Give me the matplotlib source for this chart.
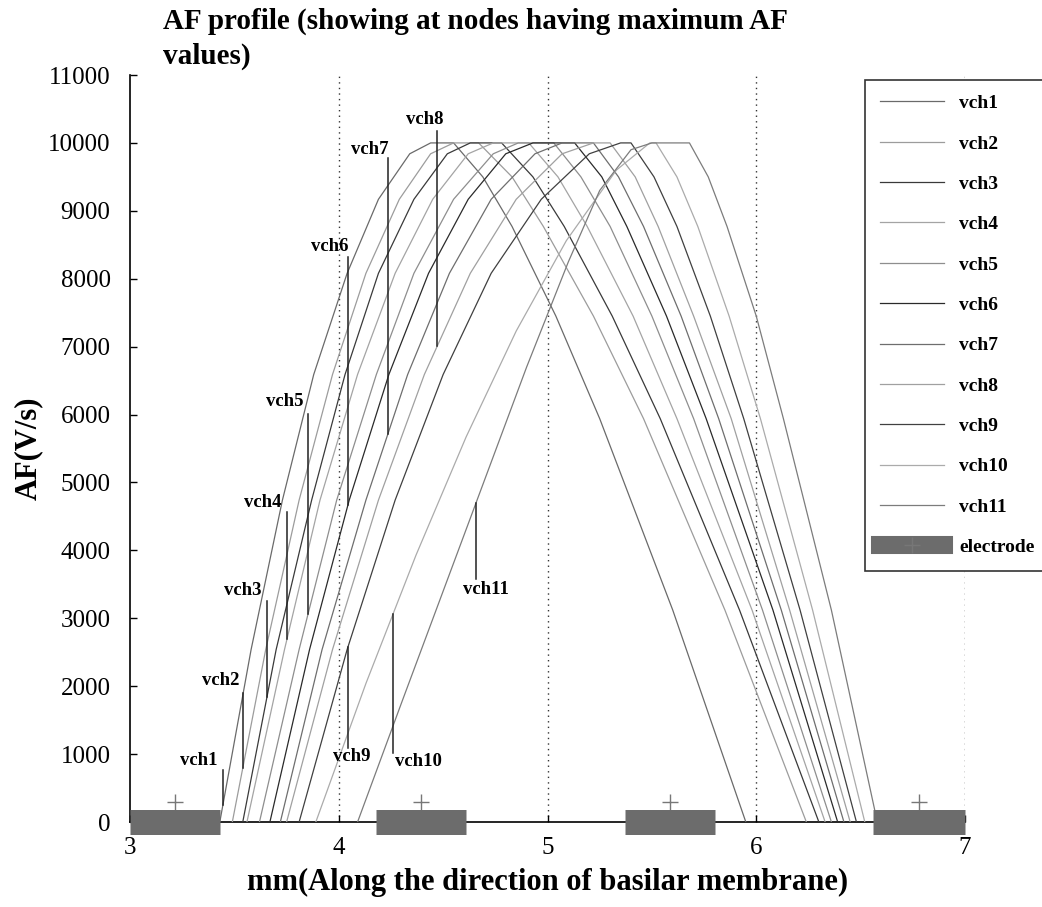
import matplotlib
matplotlib.use("Agg")
import matplotlib.pyplot as plt
from matplotlib.lines import Line2D
import numpy as np

plt.rcParams['font.family'] = ['Liberation Serif', 'DejaVu Serif']

# ---------------- data ----------------
labels = ["vch1", "vch2", "vch3", "vch4", "vch5", "vch6",
          "vch7", "vch8", "vch9", "vch10", "vch11"]

curve_x = [
    [3.43, 3.58, 3.73, 3.88, 4.04, 4.19, 4.34, 4.44, 4.55, 4.69, 4.83, 5.04, 5.25, 5.60, 5.95],
    [3.49, 3.65, 3.81, 3.97, 4.13, 4.29, 4.44, 4.55, 4.67, 4.83, 4.98, 5.22, 5.46, 5.85, 6.24],
    [3.54, 3.70, 3.87, 4.03, 4.19, 4.36, 4.52, 4.63, 4.78, 4.93, 5.08, 5.31, 5.54, 5.92, 6.30],
    [3.56, 3.74, 3.91, 4.09, 4.27, 4.45, 4.62, 4.74, 4.91, 5.05, 5.19, 5.41, 5.62, 5.98, 6.33],
    [3.62, 3.81, 3.99, 4.18, 4.36, 4.55, 4.74, 4.86, 5.03, 5.16, 5.30, 5.50, 5.70, 6.03, 6.36],
    [3.67, 3.86, 4.05, 4.24, 4.43, 4.62, 4.80, 4.93, 5.13, 5.26, 5.38, 5.57, 5.76, 6.08, 6.39],
    [3.72, 3.92, 4.13, 4.33, 4.53, 4.73, 4.94, 5.07, 5.22, 5.34, 5.46, 5.64, 5.82, 6.12, 6.42],
    [3.75, 3.97, 4.19, 4.41, 4.63, 4.85, 5.07, 5.22, 5.30, 5.42, 5.53, 5.70, 5.88, 6.16, 6.45],
    [3.81, 4.04, 4.27, 4.50, 4.73, 4.97, 5.20, 5.35, 5.40, 5.51, 5.62, 5.78, 5.94, 6.21, 6.48],
    [3.89, 4.13, 4.37, 4.61, 4.85, 5.09, 5.33, 5.49, 5.52, 5.62, 5.72, 5.87, 6.02, 6.27, 6.52],
    [4.09, 4.30, 4.50, 4.70, 4.90, 5.10, 5.25, 5.40, 5.50, 5.68, 5.77, 5.86, 6.00, 6.13, 6.36, 6.58],
]

curve_y = [
    [0, 2540, 4740, 6590, 8080, 9170, 9840, 10000, 10000, 9500, 8770, 7450, 5940, 3120, 0],
    [0, 2540, 4740, 6590, 8080, 9170, 9840, 10000, 10000, 9500, 8770, 7450, 5940, 3120, 0],
    [0, 2540, 4740, 6590, 8080, 9170, 9840, 10000, 10000, 9500, 8770, 7450, 5940, 3120, 0],
    [0, 2540, 4740, 6590, 8080, 9170, 9840, 10000, 10000, 9500, 8770, 7450, 5940, 3120, 0],
    [0, 2540, 4740, 6590, 8080, 9170, 9840, 10000, 10000, 9500, 8770, 7450, 5940, 3120, 0],
    [0, 2540, 4740, 6590, 8080, 9170, 9840, 10000, 10000, 9500, 8770, 7450, 5940, 3120, 0],
    [0, 2540, 4740, 6590, 8080, 9170, 9840, 10000, 10000, 9500, 8770, 7450, 5940, 3120, 0],
    [0, 2540, 4740, 6590, 8080, 9170, 9840, 10000, 10000, 9500, 8770, 7450, 5940, 3120, 0],
    [0, 2540, 4740, 6590, 8080, 9170, 9840, 10000, 10000, 9500, 8770, 7450, 5940, 3120, 0],
    [0, 2040, 3930, 5670, 7230, 8560, 9600, 10000, 10000, 9500, 8770, 7450, 5940, 3120, 0],
    [0, 1750, 3400, 5050, 6700, 8250, 9300, 9900, 10000, 10000, 9500, 8770, 7450, 5940, 3120, 0],
]

# electrodes (mm along the basilar membrane)
electrode_start = [3.00, 4.18, 5.37, 6.56]
electrode_end = [3.43, 4.61, 5.80, 7.00]
electrode_mark_level = 300

# annotation pointers: x on the curve, label position, pointer start level
pointer_x = [3.445, 3.54, 3.656, 3.752, 3.853, 4.044, 4.236, 4.471, 4.044, 4.26, 4.657]
label_x = [3.33, 3.436, 3.541, 3.637, 3.743, 3.958, 4.15, 4.413, 4.063, 4.38, 4.705]
label_y = [900, 2080, 3410, 4710, 6190, 8475, 9910, 10350, 960, 886, 3425]
pointer_from = [768, 1905, 3248, 4562, 6009, 8327, 9774, 10173, 1093, 1019, 3573]

x_ticks = [3, 4, 5, 6, 7]
y_ticks = list(range(0, 11001, 1000))

# ---------------- styles ----------------
colors = ['#6a6a6a', '#9c9c9c', '#3a3a3a', '#a4a4a4', '#8e8e8e', '#2a2a2a',
          '#6e6e6e', '#a0a0a0', '#404040', '#ababab', '#7c7c7c']
elec_color = '#6c6c6c'

fig = plt.figure(figsize=(10.42, 9.07), dpi=100)
ax = fig.add_axes([0.1248, 0.0937, 0.8013, 0.8236])

handles = []
for xs, ys, lab, c in zip(curve_x, curve_y, labels, colors):
    h, = ax.plot(xs, ys, color=c, lw=0.9, label=lab, zorder=3)
    handles.append(h)

# electrodes
centers = [(a + b) / 2 for a, b in zip(electrode_start, electrode_end)]
ax.plot(centers, [electrode_mark_level] * len(centers), linestyle='none',
        marker='+', ms=11, mew=1.0, color='#777777', zorder=4, clip_on=False)
for a, b in zip(electrode_start, electrode_end):
    ax.plot([a, b], [0, 0], color=elec_color, lw=18, solid_capstyle='butt',
            zorder=5, clip_on=False)

# vertical dotted grid
for xv in x_ticks[1:]:
    ax.axvline(xv, color='#333333', lw=1.0, ls=(0, (1, 3)), zorder=1)

# annotations
for i in range(len(labels)):
    yc = float(np.interp(pointer_x[i], curve_x[i], curve_y[i]))
    ax.plot([pointer_x[i], pointer_x[i]], [pointer_from[i], yc],
            color='#222222', lw=1.1, zorder=6)
    ax.text(label_x[i], label_y[i], labels[i], ha='center', va='center',
            fontsize=13.5, fontweight='bold', zorder=7)

ax.set_xlim(3, 7)
ax.set_ylim(0, 11000)
ax.set_xticks(x_ticks)
ax.set_yticks(y_ticks)
ax.set_xticklabels([str(v) for v in x_ticks])
ax.set_yticklabels([str(v) for v in y_ticks])
ax.tick_params(direction='in', length=5, width=1, labelsize=18, pad=11)
ax.tick_params(axis='y', pad=14)
for s in ['top', 'right']:
    ax.spines[s].set_visible(False)
for s in ['left', 'bottom']:
    ax.spines[s].set_linewidth(1.2)

ax.set_xlabel('mm(Along the direction of basilar membrane)', fontsize=22,
              fontweight='bold', labelpad=6)
ax.set_ylabel('AF(V/s)', fontsize=22, fontweight='bold', labelpad=4)

fig.text(163 / 1042, 1 - 8 / 907,
         'AF profile (showing at nodes having maximum AF\nvalues)',
         ha='left', va='top', fontsize=21, fontweight='bold', linespacing=1.35)

elec_handle = Line2D([], [], color=elec_color, lw=13, marker='+', ms=12,
                     mec='#777777', solid_capstyle='projecting')
leg = fig.legend(handles + [elec_handle], labels + ['electrode'],
                 loc='upper left', bbox_to_anchor=(865 / 1042, 1 - 80 / 907),
                 bbox_transform=fig.transFigure, fancybox=False,
                 edgecolor='#333333', framealpha=1, borderaxespad=0,
                 prop={'size': 14, 'weight': 'bold'}, handlelength=3.3,
                 handletextpad=0.8, labelspacing=1.17, borderpad=0.75)
leg.get_frame().set_linewidth(1.2)

fig.savefig('out.png', dpi=100)
